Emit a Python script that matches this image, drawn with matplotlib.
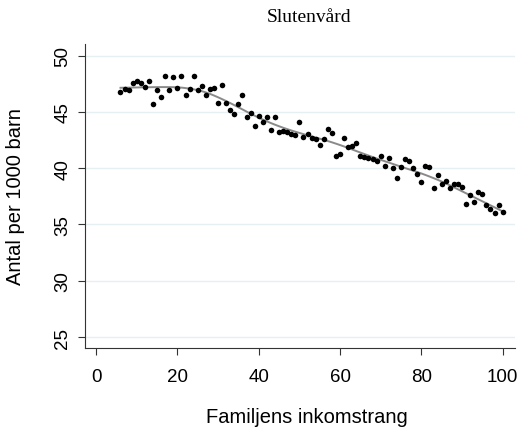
import numpy as np
import matplotlib
matplotlib.use("Agg")
import matplotlib.pyplot as plt

# Income rank (percentile) and hospital-care rate per 1000 children
rank = np.arange(6, 101)
rate = [
    46.8, 47.0, 46.9, 47.6, 47.7, 47.6, 47.2, 47.7, 45.7, 46.9,   # 6-15
    46.3, 48.2, 46.9, 48.1, 47.1, 48.2, 46.5, 47.0, 48.2, 46.9,   # 16-25
    47.3, 46.5, 47.0, 47.1, 45.8, 47.4, 45.8, 45.2, 44.8, 45.7,   # 26-35
    46.5, 44.5, 44.9, 43.7, 44.6, 44.1, 44.5, 43.4, 44.5, 43.2,   # 36-45
    43.3, 43.2, 43.0, 42.9, 44.1, 42.8, 43.0, 42.7, 42.6, 42.1,   # 46-55
    42.6, 43.5, 43.1, 41.1, 41.3, 42.7, 41.9, 42.0, 42.2, 41.1,   # 56-65
    41.0, 40.9, 40.8, 40.6, 41.1, 40.2, 40.9, 40.0, 39.1, 40.1,   # 66-75
    40.8, 40.6, 40.0, 39.5, 38.8, 40.2, 40.1, 38.2, 39.4, 38.6,   # 76-85
    38.9, 38.2, 38.6, 38.6, 38.3, 36.8, 37.6, 37.0, 37.9, 37.7,   # 86-95
    36.7, 36.4, 36.0, 36.7, 36.1,                                 # 96-100
]
rate = np.asarray(rate)

yticks = [25, 30, 35, 40, 45, 50]
xticks = [0, 20, 40, 60, 80, 100]


def lowess(x, y, frac=0.3):
    """Local linear smoother with tricube weights."""
    n = len(x)
    k = int(np.ceil(frac * n))
    fitted = np.empty(n)
    for i, x0 in enumerate(x):
        d = np.abs(x - x0)
        h = np.sort(d)[k - 1] * 1.0001
        w = np.clip(1 - (d / h) ** 3, 0, None) ** 3
        W = np.sum(w)
        xm = np.sum(w * x) / W
        ym = np.sum(w * y) / W
        b = np.sum(w * (x - xm) * (y - ym)) / np.sum(w * (x - xm) ** 2)
        fitted[i] = ym + b * (x0 - xm)
    return fitted


smooth = lowess(rank.astype(float), rate, frac=0.3)

fig = plt.figure(figsize=(5.19, 4.31), dpi=100)
ax = fig.add_axes([0.164, 0.190, 0.828, 0.706])

for t in yticks:
    ax.axhline(t, color="#e6eff1", lw=1.0, zorder=0)

ax.scatter(rank, rate, s=16, color="black", zorder=3, linewidths=0)
ax.plot(rank, smooth, color="#8a8a8a", lw=1.4, zorder=2)

ax.set_xlim(-2.7, 103.0)
ax.set_ylim(24.02, 51.04)
ax.set_xticks(xticks)
ax.set_yticks(yticks)

sans = "Liberation Sans"
ax.set_xticklabels([str(t) for t in xticks], fontname=sans, fontsize=13.5)
ax.set_yticklabels([str(t) for t in yticks], fontname=sans, fontsize=13.5,
                   rotation=90, va="center")
ax.tick_params(direction="out", length=5, width=0.8, color="#333333")
ax.tick_params(axis="x", pad=9)
ax.tick_params(axis="y", pad=5)

for side in ("top", "right"):
    ax.spines[side].set_visible(False)
for side in ("left", "bottom"):
    ax.spines[side].set_color("#333333")
    ax.spines[side].set_linewidth(0.8)

ax.set_xlabel("Familjens inkomstrang", fontname=sans, fontsize=14.5)
ax.set_ylabel("Antal per 1000 barn", fontname=sans, fontsize=14.5)
ax.xaxis.set_label_coords(0.516, -0.195)
ax.yaxis.set_label_coords(-0.14, 0.5)
fig.text(0.595, 0.96, "Slutenvård", fontname="Liberation Serif", fontsize=14,
         ha="center", va="center")

fig.savefig("out.png", dpi=100)
